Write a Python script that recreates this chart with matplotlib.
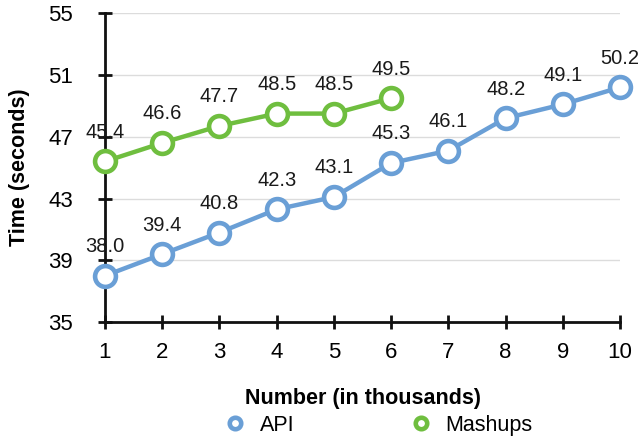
import matplotlib.pyplot as plt

plt.rcParams['font.family'] = ['Liberation Sans', 'DejaVu Sans']

# Series values (seconds), x in thousands
x_api = [1, 2, 3, 4, 5, 6, 7, 8, 9, 10]
api_times = [38.0, 39.4, 40.8, 42.3, 43.1, 45.3, 46.1, 48.2, 49.1, 50.2]
x_mashups = [1, 2, 3, 4, 5, 6]
mashup_times = [45.4, 46.6, 47.7, 48.5, 48.5, 49.5]
y_ticks = [35, 39, 43, 47, 51, 55]

API_COLOR = '#6a9fd6'
MASHUP_COLOR = '#6fbe3f'
GRID_COLOR = '#dcdcdc'
AXIS_COLOR = '#111111'

fig = plt.figure(figsize=(6.4, 4.4), dpi=100)
ax = fig.add_axes([0.164, 0.268, 0.805, 0.702])

for xs, ys, color, name in [(x_api, api_times, API_COLOR, 'API'),
                            (x_mashups, mashup_times, MASHUP_COLOR, 'Mashups')]:
    ax.plot(xs, ys, color=color, lw=3.2, marker='o', ms=15, mew=3.3,
            mfc='white', mec=color, label=name, clip_on=False, zorder=3)
    # value labels above each point
    for xv, yv in zip(xs, ys):
        ax.annotate('%.1f' % yv, (xv, yv), xytext=(0, 17), textcoords='offset points',
                    ha='center', va='baseline', fontsize=14.5, color='#1a1a1a', zorder=4)

ax.set_xlim(1, 10)
ax.set_ylim(35, 55)
ax.set_xticks(x_api)
ax.set_yticks(y_ticks)
ax.yaxis.grid(True, color=GRID_COLOR, lw=1)
ax.set_axisbelow(True)

for side in ['top', 'right']:
    ax.spines[side].set_visible(False)
for side in ['left', 'bottom']:
    ax.spines[side].set_linewidth(2)
    ax.spines[side].set_color(AXIS_COLOR)
    ax.spines[side].set_zorder(2)
ax.tick_params(direction='inout', length=10, width=2, labelsize=16, color=AXIS_COLOR)
ax.tick_params(axis='x', pad=9)
ax.tick_params(axis='y', pad=18)

ax.set_xlabel('Number (in thousands)', fontsize=15.5, fontweight='bold', va='top')
ax.xaxis.set_label_coords(0.5, -0.214)
ax.set_ylabel('Time (seconds)', fontsize=15.5, fontweight='bold', va='top')
ax.yaxis.set_label_coords(-0.186, 0.5)

leg = fig.legend(loc='center', bbox_to_anchor=(0.59, 0.034), ncol=2, frameon=False,
                 fontsize=15.5, handlelength=1.2, columnspacing=5.25, markerscale=0.55,
                 handletextpad=0.55)
for line in leg.get_lines():
    line.set_linestyle('none')

fig.savefig('out.png', dpi=100)
